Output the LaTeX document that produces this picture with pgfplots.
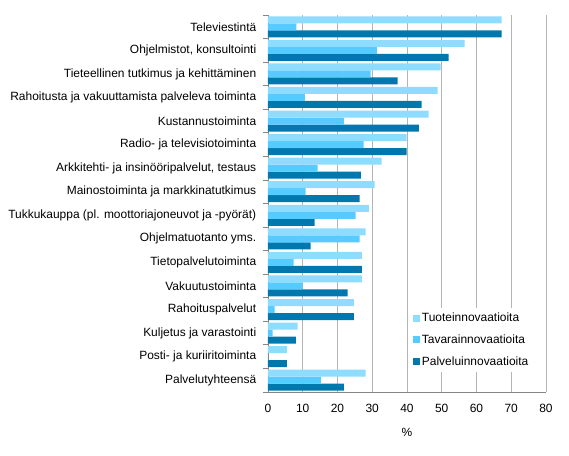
\documentclass[border=0pt]{standalone}
\usepackage{fontspec}
\setmainfont{Liberation Sans}
\usepackage{pgfplots}
\pgfplotsset{compat=1.18}
\usepackage{pgfplotstable}

\definecolor{tuote}{HTML}{8EDCFF}
\definecolor{tavara}{HTML}{55CBFF}
\definecolor{palvelu}{HTML}{0078AE}
\definecolor{gridgray}{HTML}{B4B4B4}
\definecolor{axisgray}{HTML}{868686}

% idx  tuote  tavara  palvelu
\pgfplotstableread{
idx T    Ta   P
0   67.2 8.2  67.2
1   56.6 31.3 52.0
2   49.7 29.5 37.3
3   48.8 10.6 44.2
4   46.2 21.8 43.4
5   39.9 27.5 39.9
6   32.7 14.3 26.7
7   30.7 10.8 26.4
8   29.0 25.2 13.4
9   28.1 26.4 12.3
10  27.0 7.4  27.0
11  27.0 10.0 22.9
12  24.7 1.9  24.7
13  8.5  1.3  8.0
14  5.4  0.0  5.4
15  28.1 15.2 21.8
}\data

\begin{document}
\begin{tikzpicture}
\useasboundingbox (-268bp,-64bp) rectangle (301bp,392bp);
\begin{axis}[
    scale only axis,
    width=278bp, height=377bp,
    font=\fontsize{12}{14}\selectfont,
    /pgf/number format/assume math mode=true,
    xbar=0pt, bar width=7bp,
    xmin=0, xmax=80, ymin=-0.5, ymax=15.5,
    y dir=reverse,
    xtick={0,10,...,80},
    xmajorgrids,
    grid style={color=gridgray, line width=0.8bp},
    ytick={0,...,15},
    yticklabels={Televiestintä, {Ohjelmistot, konsultointi}, Tieteellinen tutkimus ja kehittäminen,
        Rahoitusta ja vakuuttamista palveleva toiminta, Kustannustoiminta,
        Radio- ja televisiotoiminta, {Arkkitehti- ja insinööripalvelut, testaus},
        Mainostoiminta ja markkinatutkimus, Tukkukauppa (pl. moottoriajoneuvot ja -pyörät),
        Ohjelmatuotanto yms., Tietopalvelutoiminta, Vakuutustoiminta, Rahoituspalvelut,
        Kuljetus ja varastointi, Posti- ja kuriiritoiminta, Palvelutyhteensä},
    axis x line*=bottom, axis y line*=left,
    axis line style={draw=axisgray, line width=0.8bp},
    y tick style={draw=none}, x tick style={draw=none},
    yticklabel style={xshift=-4bp},
    xticklabel style={yshift=-9bp},
    extra y ticks={-0.5,0.5,...,15.5},
    extra y tick labels={},
    extra y tick style={y tick style={draw=axisgray, line width=0.8bp}, major tick length=5bp, tick align=outside},
    xlabel={\%},
    xlabel style={yshift=-8bp},
    legend style={at={(0.51,0.223)}, anchor=north west, draw=none, fill=white,
        font=\fontsize{12}{14}\selectfont, row sep=7.5bp, inner sep=3bp},
    legend cell align=left,
    reverse legend,
    legend image code/.code={\path[#1] (0bp,-3.5bp) rectangle (7bp,3.5bp);},
]
\addplot[fill=palvelu, draw=none] table[x=P, y=idx] {\data};
\addplot[fill=tavara, draw=none] table[x=Ta, y=idx] {\data};
\addplot[fill=tuote, draw=none] table[x=T, y=idx] {\data};
\legend{Palveluinnovaatioita, Tavarainnovaatioita, Tuoteinnovaatioita}
\end{axis}
\end{tikzpicture}
\end{document}
